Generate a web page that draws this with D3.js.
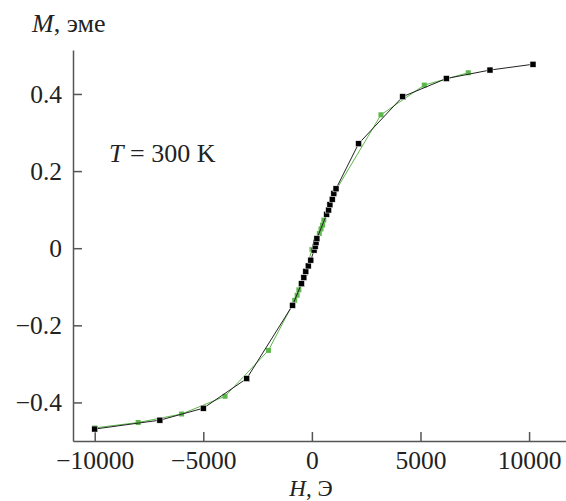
<!DOCTYPE html>
<html>
<head>
<meta charset="utf-8">
<script src="https://cdn.jsdelivr.net/npm/d3@7"></script>
<style>
	body { margin: 0; background: #fff; }
	.axis path, .axis line { stroke: #555; stroke-width: 1.5; }
</style>
</head>
<body>
<div id="root"></div>
<script>
// black series (H, Oe / M, emu)
const blackH = [-10000, -7000, -5000, -3000, -890, -480, -370, -280, -170, -50,
	100, 150, 190, 230, 680, 770, 830, 935, 1010, 1110, 2150, 4180, 6190, 8200, 10180];
const blackM = [-0.469, -0.446, -0.415, -0.338, -0.148, -0.092, -0.076, -0.060, -0.046, -0.031,
	-0.005, 0.005, 0.015, 0.025, 0.088, 0.099, 0.113, 0.127, 0.142, 0.154, 0.271, 0.393, 0.440, 0.462, 0.477];

// green series
const greenH = [-10000, -8000, -6000, -4000, -2000, -790, -680, -600, -500, -300,
	0, 180, 340, 420, 490, 550, 1050, 3180, 5175, 7200];
const greenM = [-0.466, -0.452, -0.430, -0.384, -0.265, -0.135, -0.122, -0.108, -0.093, -0.065,
	-0.003, 0.012, 0.038, 0.050, 0.060, 0.073, 0.145, 0.346, 0.423, 0.455];

const xTicks = [-10000, -5000, 0, 5000, 10000];
const yTicks = [-0.4, -0.2, 0, 0.2, 0.4];

const serif = "'Liberation Serif', 'Times New Roman', serif";

function draw() {
	const width = 566;
	const height = 501;

	let svg = d3.select("#root")
		.append("svg")
		.attr("width", width)
		.attr("height", height);

	const x = d3.scaleLinear().domain([-11000, 11700]).range([73, 566]);
	const y = d3.scaleLinear().domain([-0.5, 0.514]).range([441, 50]);

	// axes, ticks point inward
	svg.append("g")
		.attr("class", "axis")
		.attr("transform", "translate(0,441)")
		.call(d3.axisBottom(x).tickValues(xTicks).tickSize(-9).tickSizeOuter(0).tickPadding(10)
			.tickFormat(d3.format("d")));

	svg.append("g")
		.attr("class", "axis")
		.attr("transform", "translate(73,0)")
		.call(d3.axisLeft(y).tickValues(yTicks).tickSize(-9).tickSizeOuter(0).tickPadding(11)
			.tickFormat(d => d === 0 ? "0" : d3.format(".1f")(d)));

	svg.selectAll(".axis").attr("font-family", null).attr("font-size", null);
	svg.selectAll(".axis text")
		.style("font-family", serif)
		.style("font-size", "25.5px")
		.attr("fill", "#222");

	const green = greenH.map((h, i) => [h, greenM[i]]);
	const black = blackH.map((h, i) => [h, blackM[i]]);

	const line = d3.line().x(d => x(d[0])).y(d => y(d[1]));

	// green curve
	svg.append("path")
		.datum(green)
		.attr("d", line)
		.attr("fill", "none")
		.attr("stroke", "#5cb84a")
		.attr("stroke-width", 1);

	svg.selectAll(".gpt")
		.data(green)
		.enter()
		.append("rect")
		.attr("class", "gpt")
		.attr("x", d => x(d[0]) - 2.5)
		.attr("y", d => y(d[1]) - 2.5)
		.attr("width", 5)
		.attr("height", 5)
		.attr("fill", "#5cb84a");

	// black curve
	svg.append("path")
		.datum(black)
		.attr("d", line)
		.attr("fill", "none")
		.attr("stroke", "#222")
		.attr("stroke-width", 1);

	svg.selectAll(".bpt")
		.data(black)
		.enter()
		.append("rect")
		.attr("class", "bpt")
		.attr("x", d => x(d[0]) - 3)
		.attr("y", d => y(d[1]) - 3)
		.attr("width", 6)
		.attr("height", 6)
		.attr("fill", "#000")
		.attr("stroke", "#fff")
		.attr("stroke-width", 0.5);

	// labels
	function label(xp, yp, anchor, ital, rest, size) {
		let t = svg.append("text")
			.attr("x", xp).attr("y", yp)
			.attr("text-anchor", anchor)
			.attr("fill", "#222")
			.style("font-family", serif)
			.style("font-size", size + "px");
		t.append("tspan").style("font-style", "italic").text(ital);
		t.append("tspan").text(rest);
	}
	label(32, 32, "start", "M", ", эме", 26);
	label(311, 496, "middle", "H", ", Э", 23);
	label(109, 162, "start", "T", " = 300 K", 26);
}

draw();
</script>
</body>
</html>
